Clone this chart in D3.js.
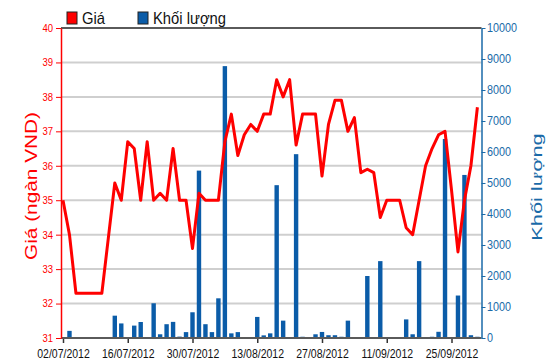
<!DOCTYPE html>
<html>
<head>
<meta charset="utf-8">
<script src="https://cdn.jsdelivr.net/npm/d3@7"></script>
<style>
  body { margin: 0; background: #fff; }
  svg { display: block; font-family: "Liberation Sans", Arial, sans-serif; }
</style>
</head>
<body>
<svg id="chart" width="550" height="364"></svg>
<script>
// trading days, 02/07/2012 .. 01/10/2012
var dates = [
  "02/07/2012","03/07/2012","04/07/2012","05/07/2012","06/07/2012","09/07/2012","10/07/2012","11/07/2012",
  "12/07/2012","13/07/2012","16/07/2012","17/07/2012","18/07/2012","19/07/2012","20/07/2012","23/07/2012",
  "24/07/2012","25/07/2012","26/07/2012","27/07/2012","30/07/2012","31/07/2012","01/08/2012","02/08/2012",
  "03/08/2012","06/08/2012","07/08/2012","08/08/2012","09/08/2012","10/08/2012","13/08/2012","14/08/2012",
  "15/08/2012","16/08/2012","17/08/2012","20/08/2012","21/08/2012","22/08/2012","23/08/2012","24/08/2012",
  "27/08/2012","28/08/2012","29/08/2012","30/08/2012","31/08/2012","04/09/2012","05/09/2012","06/09/2012",
  "07/09/2012","10/09/2012","11/09/2012","12/09/2012","13/09/2012","14/09/2012","17/09/2012","18/09/2012",
  "19/09/2012","20/09/2012","21/09/2012","24/09/2012","25/09/2012","26/09/2012","27/09/2012","28/09/2012",
  "01/10/2012"
];

// giá (ngàn VND)
var prices = [
  35.0, 34.0, 32.3, 32.3, 32.3, 32.3, 32.3, 33.9,
  35.5, 35.0, 36.7, 36.5, 35.0, 36.7, 35.0, 35.2,
  35.0, 36.5, 35.0, 35.0, 33.6, 35.2, 35.0, 35.0,
  35.0, 36.7, 37.5, 36.3, 36.9, 37.2, 37.0, 37.5,
  37.5, 38.5, 38.0, 38.5, 36.6, 37.5, 37.5, 37.5,
  35.7, 37.2, 37.9, 37.9, 37.0, 37.4, 35.8, 35.9,
  35.8, 34.5, 35.0, 35.0, 35.0, 34.2, 34.0, 35.0,
  36.0, 36.5, 36.9, 37.0, 35.3, 33.5, 35.0, 36.0,
  37.7
];

// khối lượng
var volumes = [
  0, 230, 0, 0, 0, 0, 0, 0,
  720, 470, 0, 400, 516, 0, 1120, 120,
  445, 520, 45, 190, 830, 5400, 445, 190,
  1280, 8770, 150, 190, 0, 0, 680, 85,
  150, 4930, 560, 0, 5930, 40, 0, 120,
  195, 90, 90, 40, 560, 0, 0, 2000,
  0, 2480, 0, 0, 0, 600, 120, 2480,
  0, 40, 200, 6420, 0, 1370, 5260, 90,
  40
];

var xTicks = ["02/07/2012","16/07/2012","30/07/2012","13/08/2012","27/08/2012","11/09/2012","25/09/2012"];
var priceTicks = [31, 32, 33, 34, 35, 36, 37, 38, 39, 40];
var volTicks = [0, 1000, 2000, 3000, 4000, 5000, 6000, 7000, 8000, 9000, 10000];

var RED = "#ff0000";
var BLUE = "#0b5ca8";
var BLUE_TXT = "#1a6aa8";

var pLeft = 61, pRight = 481.5, pTop = 28, pBottom = 338;
var svg = d3.select("#chart");

var x = d3.scalePoint().domain(dates).range([63, 477.4]);
var yP = d3.scaleLinear().domain([31, 40]).range([pBottom, pTop]);
var yV = d3.scaleLinear().domain([0, 10000]).range([pBottom, pTop]);

// grid
svg.append("g")
  .selectAll("line")
  .data(priceTicks.slice(1, -1))
  .enter().append("line")
  .attr("x1", pLeft).attr("x2", pRight)
  .attr("y1", function(d) { return yP(d); })
  .attr("y2", function(d) { return yP(d); })
  .attr("stroke", "#cfcfcf")
  .attr("stroke-width", 2);

// top border
svg.append("line")
  .attr("x1", pLeft).attr("x2", pRight)
  .attr("y1", pTop).attr("y2", pTop)
  .attr("stroke", "#5a5a5a").attr("stroke-width", 2);

// volume bars
var bw = 4.4;
svg.append("g")
  .selectAll("rect")
  .data(volumes)
  .enter().append("rect")
  .attr("x", function(d, i) { return x(dates[i]) - bw / 2; })
  .attr("y", function(d) { return yV(d); })
  .attr("width", bw)
  .attr("height", function(d) { return pBottom - yV(d); })
  .attr("fill", BLUE);

// price line
var line = d3.line()
  .x(function(d, i) { return x(dates[i]); })
  .y(function(d) { return yP(d); });

svg.append("path")
  .datum(prices)
  .attr("d", line)
  .attr("fill", "none")
  .attr("stroke", RED)
  .attr("stroke-width", 3)
  .attr("stroke-linejoin", "round");

// x axis
var xg = svg.append("g")
  .attr("transform", "translate(0," + pBottom + ")")
  .call(d3.axisBottom(x).tickValues(xTicks).tickSize(5).tickSizeOuter(0));
xg.select(".domain").remove();
xg.append("line").attr("x1", pLeft).attr("x2", pRight).attr("stroke", "#5a5a5a").attr("stroke-width", 2);
xg.selectAll(".tick line").attr("stroke", "#333").attr("stroke-width", 1.5);
xg.selectAll("text")
  .attr("fill", "#111")
  .style("font-size", "10.5px")
  .attr("y", 16.6).attr("dy", 0)
  .attr("transform", "scale(1,1.2)");

// left axis
var lg = svg.append("g")
  .attr("transform", "translate(" + pLeft + ",0)")
  .call(d3.axisLeft(yP).tickValues(priceTicks).tickSize(5).tickPadding(3).tickSizeOuter(0));
lg.select(".domain").attr("stroke", RED).attr("stroke-width", 1.5);
lg.selectAll(".tick line").attr("stroke", RED);
lg.selectAll("text")
  .attr("fill", RED)
  .style("font-size", "9.5px")
  .attr("dy", "0.3em")
  .attr("transform", "scale(1,1.2)");

// right axis
var rg = svg.append("g")
  .attr("transform", "translate(" + pRight + ",0)")
  .call(d3.axisRight(yV).tickValues(volTicks).tickFormat(d3.format("d"))
    .tickSize(4).tickPadding(1.5).tickSizeOuter(0));
rg.select(".domain").attr("stroke", BLUE_TXT).attr("stroke-width", 1.5);
rg.selectAll(".tick line").attr("stroke", BLUE_TXT);
rg.selectAll("text")
  .attr("fill", BLUE_TXT)
  .style("font-size", "10.8px")
  .attr("dy", "0.3em")
  .attr("transform", "scale(1,1.2)");

// axis titles
svg.append("text")
  .attr("transform", "translate(37,186) rotate(-90) scale(1.3,1)")
  .attr("text-anchor", "middle")
  .attr("fill", RED)
  .style("font-size", "16px")
  .text("Giá (ngàn VND)");

svg.append("text")
  .attr("transform", "translate(542,187) rotate(-90) scale(1.45,1)")
  .attr("text-anchor", "middle")
  .attr("fill", BLUE_TXT)
  .style("font-size", "15px")
  .text("Khối lượng");

// legend
var legend = [
  { label: "Giá", color: RED, x: 67 },
  { label: "Khối lượng", color: BLUE, x: 138 }
];
var lgd = svg.append("g");
lgd.selectAll("rect")
  .data(legend)
  .enter().append("rect")
  .attr("x", function(d) { return d.x; })
  .attr("y", 12)
  .attr("width", 10).attr("height", 12)
  .attr("fill", function(d) { return d.color; })
  .attr("stroke", "#222").attr("stroke-width", 1);
lgd.selectAll("text")
  .data(legend)
  .enter().append("text")
  .attr("transform", function(d) { return "translate(" + (d.x + 15) + ",24) scale(1,1.13)"; })
  .attr("fill", "#111")
  .style("font-size", "14.8px")
  .text(function(d) { return d.label; });
</script>
</body>
</html>
